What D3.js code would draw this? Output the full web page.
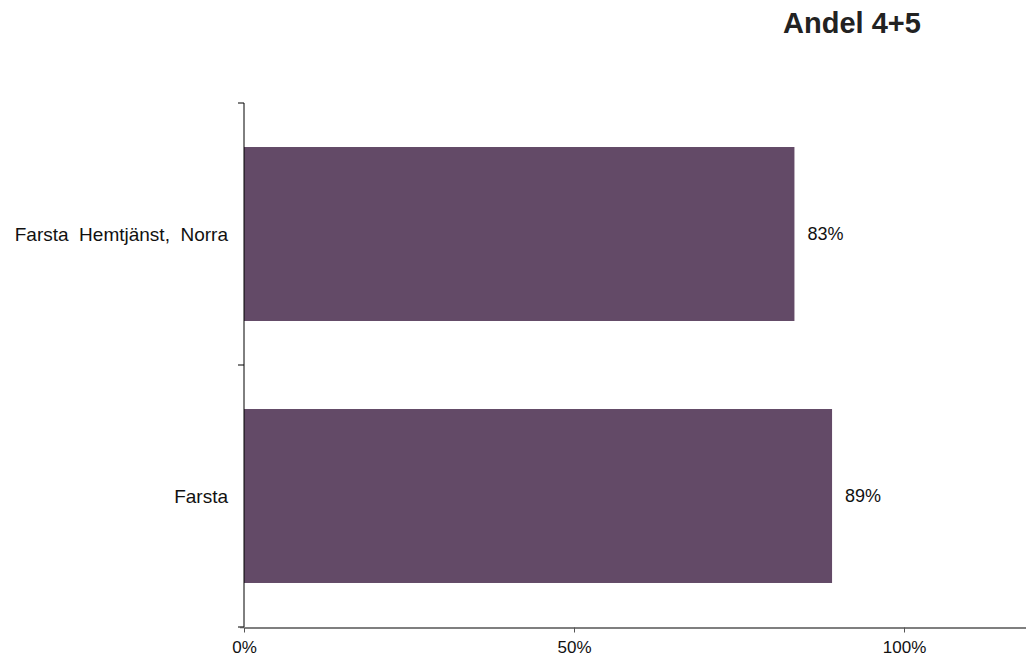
<!DOCTYPE html>
<html><head><meta charset="utf-8">
<script src="https://cdn.jsdelivr.net/npm/d3@7"></script>
<style>body{margin:0;background:#fff}svg{display:block}text{font-family:"Liberation Sans",Arial,sans-serif}</style>
</head><body>
<svg id="c" width="1026" height="656"></svg>
<script>
const categories = ["Farsta  Hemtjänst,  Norra", "Farsta"];
const values = [0.834, 0.891];
const xTicks = [0, 0.5, 1];
const title = "Andel 4+5";

const svg = d3.select("#c");
const x0 = 244, plotTop = 103, plotBottom = 627;
const x = d3.scaleLinear().domain([0, 1.2]).range([x0, x0 + 660 * 1.2]);
const y = d3.scaleBand().domain(categories).range([plotTop, plotBottom]).paddingInner(0.336).paddingOuter(0.168);

svg.append("text").attr("x", 852).attr("y", 33).attr("text-anchor", "middle")
  .attr("font-size", 29).attr("font-weight", "bold").attr("fill", "#222").text(title);

svg.selectAll("rect.bar").data(values).join("rect").attr("class", "bar")
  .attr("x", x(0)).attr("y", (d, i) => y(categories[i]))
  .attr("width", d => x(d) - x(0)).attr("height", y.bandwidth())
  .attr("fill", "#634A67");

svg.selectAll("text.val").data(values).join("text").attr("class", "val")
  .attr("x", d => x(d) + 13).attr("y", (d, i) => y(categories[i]) + y.bandwidth() / 2)
  .attr("dy", "0.35em").attr("font-size", 18).attr("fill", "#111")
  .text(d => d3.format(".0%")(d));

// y axis
const ya = svg.append("g");
ya.append("line").attr("x1", x0).attr("x2", x0).attr("y1", plotTop).attr("y2", plotBottom).attr("stroke", "#000");
const yTickPos = [plotTop, y.step() + plotTop, plotBottom];
ya.selectAll("line.t").data(yTickPos).join("line").attr("class", "t")
  .attr("x1", x0 - 6).attr("x2", x0).attr("y1", d => d).attr("y2", d => d).attr("stroke", "#000");
ya.selectAll("text").data(categories).join("text")
  .attr("x", x0 - 16).attr("y", d => y(d) + y.bandwidth() / 2).attr("dy", "0.35em")
  .attr("text-anchor", "end").attr("font-size", 19).attr("fill", "#111")
  .style("white-space", "pre").text(d => d);

// x axis
const xa = svg.append("g").attr("transform", `translate(0,${plotBottom + 0.5})`)
  .call(d3.axisBottom(x).tickValues(xTicks).tickFormat(d3.format(".0%")).tickSize(5).tickSizeOuter(0));
xa.select(".domain").attr("stroke", "#555").attr("stroke-width", 1.5);
xa.selectAll(".tick line").attr("stroke", "#555");
xa.selectAll(".tick text").attr("font-size", 17).attr("fill", "#111").attr("dy", "1.05em")
  .style("font-family", '"Liberation Sans",Arial,sans-serif');
xa.append("line").attr("x1", x0 - 4).attr("x2", x0).attr("stroke", "#555").attr("stroke-width", 1.5);
</script>
</body></html>
